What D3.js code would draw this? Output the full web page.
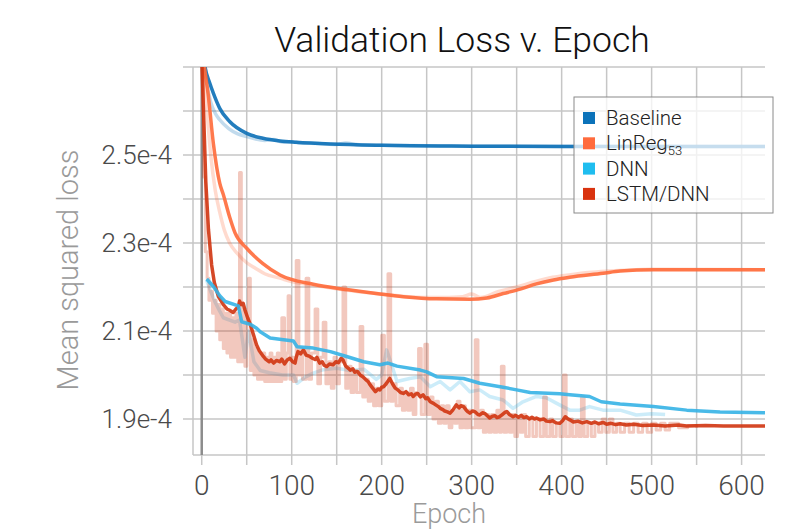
<!DOCTYPE html>
<html>
<head>
<meta charset="utf-8">
<script src="https://cdn.jsdelivr.net/npm/d3@7"></script>
<style>
  body { margin: 0; background: #fff; }
  svg text { font-family: Roboto, 'Liberation Sans', sans-serif; font-weight: 300; }
</style>
</head>
<body>
<div id="chart"></div>
<script>
// loss values are in units of 1e-4
const seriesNames = ['Baseline', 'LinReg', 'DNN', 'LSTM/DNN']
const colors = ['#0b6fb6', '#ff6a3a', '#35b3e6', '#d0340f']
const legendColors = ['#0b72b9', '#ff6b3d', '#1fbdef', '#d9330f']

const xTicks = [0, 100, 200, 300, 400, 500, 600]
const xGrid = [0, 50, 100, 150, 200, 250, 300, 350, 400, 450, 500, 550, 600]
const yTicks = [2.5, 2.3, 2.1, 1.9]
const yTickLabels = ['2.5e-4', '2.3e-4', '2.1e-4', '1.9e-4']
const yGrid = [1.9, 2.0, 2.1, 2.2, 2.3, 2.4, 2.5, 2.6, 2.7]

// smoothed curves
const baselineEpoch = [1, 3.7, 9, 13, 20, 31, 50, 68, 87, 105, 143, 200, 300, 400, 500, 626]
const baselineLoss = [2.74, 2.70, 2.663, 2.640, 2.606, 2.576, 2.549, 2.538, 2.532, 2.529, 2.525, 2.522, 2.520, 2.519, 2.519, 2.519]

const linregEpoch = [1, 3, 7, 13, 20, 24, 31, 37, 50, 68, 87, 124, 161, 198, 224, 261, 298, 317, 335, 354, 372, 391, 409, 446, 465, 502, 626]
const linregLoss = [2.74, 2.70, 2.641, 2.525, 2.436, 2.41, 2.359, 2.323, 2.288, 2.253, 2.227, 2.206, 2.194, 2.184, 2.178, 2.173, 2.172, 2.175, 2.185, 2.195, 2.207, 2.216, 2.222, 2.231, 2.236, 2.239, 2.239]

const dnnEpoch = [5.5, 13, 20, 26, 40.7, 44.4, 54, 61, 65, 76, 91, 102, 106, 124, 143, 161, 180, 198, 207, 217, 243, 250, 261, 291, 309, 335, 350, 365, 398, 409, 431, 444, 465, 502, 539, 576, 626]
const dnnLoss = [2.218, 2.201, 2.180, 2.167, 2.157, 2.121, 2.115, 2.106, 2.098, 2.084, 2.080, 2.077, 2.064, 2.061, 2.053, 2.042, 2.030, 2.023, 2.027, 2.020, 2.011, 2.007, 1.996, 1.992, 1.981, 1.972, 1.966, 1.960, 1.957, 1.955, 1.951, 1.939, 1.934, 1.928, 1.920, 1.916, 1.914]

const lstmEpoch = [0, 2, 4.5, 7.5, 11, 14, 18.5, 21, 24, 26, 28, 31, 35, 38, 40.7, 42, 44, 46, 48, 51, 54, 57, 61, 64, 68.5, 71, 75, 77, 80, 83, 87, 89, 92, 95, 98, 101, 103.7, 105, 107, 110, 113, 116, 120, 123, 126, 128, 131, 134, 136, 139, 142, 146, 149, 152, 155, 157, 160, 163, 165, 168, 170, 173, 176, 179, 182, 185, 187, 190, 193, 196, 198, 200, 202, 205, 209, 212, 215, 218, 221, 224, 227, 230, 233, 235, 238, 240, 243, 246, 249, 251, 254, 257, 260, 263, 265, 268, 270, 273, 276, 279, 283, 286, 288, 291, 294, 296, 298, 301, 304, 307, 309, 312, 315, 318, 320, 323, 326, 328, 331, 334, 337, 339, 342, 346, 349, 352, 355, 358, 361, 364, 367, 370, 372, 376, 380, 383, 387, 390, 394, 398, 401, 404, 407, 409, 413, 418, 423, 428, 433, 437, 441, 446, 450, 455, 460, 465, 472, 480, 490, 502, 515, 530, 539, 560, 580, 626]
const lstmLoss = [2.72, 2.60, 2.44, 2.33, 2.25, 2.21, 2.178, 2.17, 2.16, 2.155, 2.15, 2.147, 2.142, 2.150, 2.155, 2.168, 2.160, 2.163, 2.148, 2.130, 2.115, 2.095, 2.068, 2.055, 2.042, 2.036, 2.030, 2.034, 2.027, 2.033, 2.030, 2.036, 2.025, 2.034, 2.038, 2.030, 2.027, 2.040, 2.053, 2.048, 2.057, 2.045, 2.042, 2.038, 2.035, 2.040, 2.027, 2.030, 2.022, 2.019, 2.025, 2.023, 2.030, 2.028, 2.038, 2.034, 2.020, 2.015, 2.011, 2.014, 2.006, 2.008, 2.000, 1.996, 1.990, 1.985, 1.978, 1.970, 1.962, 1.968, 1.966, 1.972, 1.973, 1.980, 1.992, 1.980, 1.970, 1.966, 1.960, 1.958, 1.962, 1.955, 1.957, 1.951, 1.957, 1.958, 1.950, 1.955, 1.946, 1.948, 1.939, 1.936, 1.932, 1.928, 1.924, 1.921, 1.918, 1.916, 1.913, 1.920, 1.932, 1.925, 1.930, 1.928, 1.920, 1.916, 1.913, 1.918, 1.916, 1.910, 1.909, 1.914, 1.912, 1.906, 1.902, 1.906, 1.907, 1.903, 1.905, 1.910, 1.915, 1.917, 1.910, 1.905, 1.908, 1.904, 1.908, 1.903, 1.905, 1.900, 1.904, 1.900, 1.902, 1.898, 1.900, 1.895, 1.894, 1.896, 1.891, 1.890, 1.896, 1.905, 1.900, 1.898, 1.893, 1.895, 1.891, 1.894, 1.890, 1.893, 1.889, 1.892, 1.888, 1.890, 1.887, 1.889, 1.886, 1.888, 1.885, 1.886, 1.884, 1.886, 1.884, 1.885, 1.884, 1.884]

// raw (unsmoothed) curves, drawn faint
const baselineRawEpoch = [1, 5, 10, 15, 20, 30, 40, 50, 60, 70, 80, 90, 100, 110, 130, 150, 160, 175, 200, 250, 300, 626]
const baselineRawLoss = [2.74, 2.67, 2.62, 2.595, 2.58, 2.56, 2.548, 2.542, 2.536, 2.533, 2.535, 2.529, 2.530, 2.527, 2.526, 2.524, 2.527, 2.523, 2.522, 2.521, 2.520, 2.519]

const linregRawEpoch = [1, 5, 10, 15, 20, 25, 31, 40, 50, 60, 70, 87, 100, 124, 150, 180, 200, 230, 260, 290, 300, 310, 330, 350, 370, 390, 410, 430, 450, 470, 500, 626]
const linregRawLoss = [2.72, 2.62, 2.50, 2.42, 2.37, 2.33, 2.30, 2.275, 2.255, 2.242, 2.230, 2.220, 2.212, 2.204, 2.196, 2.188, 2.184, 2.178, 2.176, 2.178, 2.184, 2.176, 2.190, 2.200, 2.212, 2.222, 2.228, 2.233, 2.236, 2.238, 2.240, 2.239]

const dnnRawEpoch = [5.5, 10, 15, 20, 24, 37, 42, 48, 52, 58, 65, 75, 90, 102, 106, 115, 124, 135, 150, 165, 180, 194, 200, 205.5, 210, 217, 231, 243, 254, 265, 276, 287, 298, 309, 320, 335, 346, 357, 372, 383, 394, 409, 420, 431, 446, 465, 483, 500, 515]
const dnnRawLoss = [2.215, 2.19, 2.165, 2.145, 2.13, 2.12, 2.125, 2.04, 2.10, 2.03, 2.01, 2.005, 2.0, 2.0, 1.981, 1.995, 2.004, 2.012, 2.015, 2.010, 2.013, 1.990, 2.000, 2.057, 2.03, 1.985, 1.992, 1.996, 1.973, 1.985, 1.966, 1.985, 1.962, 1.966, 1.951, 1.943, 1.924, 1.939, 1.951, 1.948, 1.936, 1.920, 1.920, 1.928, 1.920, 1.920, 1.909, 1.912, 1.910]

const lstmRawEpoch = [0, 2, 4, 6, 8, 10, 12, 14, 16, 18, 20, 22, 24, 26, 28, 30, 32, 34, 36, 38, 40, 42, 44, 46, 48, 50, 52, 54, 56, 58, 60, 62, 64, 66, 68, 70, 72, 74, 76, 78, 80, 82, 84, 86, 89, 92, 94, 96, 98, 100, 102, 105, 108, 110, 112, 116, 119, 122, 126, 129, 132, 135, 138, 141, 144, 147, 150, 153, 157, 160, 163, 166, 169, 172, 176, 179, 182, 185, 188, 191, 194, 197, 200, 203, 207, 210, 213, 216, 220, 223, 226, 229, 232, 235, 238, 241, 244, 248, 251, 254, 257, 260, 263, 266, 269, 272, 275, 278, 281, 284, 287, 290, 293, 296, 299, 304, 307, 310, 313, 316, 319, 322, 325, 328, 331, 333, 336, 339, 342, 345, 348, 351, 354, 357, 360, 364, 368, 372, 376, 380, 383, 387, 390, 394, 398, 402, 405, 409, 412, 416, 419, 422, 425, 429, 433, 437, 441, 445, 449, 453, 457, 461, 465, 470, 475, 480, 485, 490, 495, 500, 505, 510, 515, 520, 530, 540, 550]
const lstmRawLoss = [2.72, 2.45, 2.28, 2.22, 2.17, 2.19, 2.14, 2.17, 2.10, 2.16, 2.08, 2.15, 2.06, 2.14, 2.05, 2.14, 2.04, 2.13, 2.04, 2.14, 2.03, 2.46, 2.03, 2.15, 2.02, 2.12, 2.22, 2.01, 2.08, 2.00, 2.06, 1.99, 2.05, 1.99, 2.05, 1.985, 2.04, 1.985, 2.05, 1.985, 2.04, 1.985, 2.05, 1.985, 2.13, 1.99, 2.05, 2.18, 1.99, 2.04, 1.985, 2.26, 2.00, 2.06, 1.99, 2.22, 1.99, 2.05, 2.15, 1.98, 2.04, 2.12, 1.98, 2.03, 1.97, 2.04, 1.98, 2.03, 2.20, 1.97, 2.02, 1.96, 2.01, 1.96, 2.11, 1.95, 1.99, 1.94, 1.98, 1.93, 1.97, 1.93, 2.09, 1.94, 2.23, 1.94, 1.98, 1.93, 1.97, 1.92, 1.96, 1.92, 1.97, 1.91, 1.96, 2.06, 1.91, 2.07, 1.91, 1.95, 1.90, 1.94, 1.89, 1.93, 1.89, 1.93, 1.88, 1.92, 1.89, 1.94, 1.88, 1.93, 1.88, 1.92, 1.88, 2.08, 1.88, 1.92, 1.87, 1.91, 1.87, 1.91, 1.87, 1.92, 1.87, 2.02, 1.87, 1.91, 1.87, 1.91, 1.86, 1.90, 1.87, 1.91, 1.86, 1.90, 1.86, 1.90, 1.86, 1.95, 1.86, 1.90, 1.86, 1.89, 1.86, 2.00, 1.86, 1.90, 1.86, 1.89, 1.86, 1.95, 1.86, 1.89, 1.86, 1.89, 1.87, 1.90, 1.87, 1.90, 1.87, 1.89, 1.87, 1.89, 1.87, 1.89, 1.87, 1.89, 1.87, 1.89, 1.875, 1.89, 1.875, 1.89, 1.88, 1.885, 1.88]

const width = 807
const height = 531
const plot = { left: 193, right: 765, top: 67, bottom: 455 }

const svg = d3.select('#chart')
  .append('svg')
  .attr('width', width)
  .attr('height', height)

const x = d3.scaleLinear().domain([-9.7, 626]).range([plot.left, plot.right])
const y = d3.scaleLinear().domain([1.818, 2.7]).range([plot.bottom, plot.top])

svg.append('clipPath')
  .attr('id', 'plot-clip')
  .append('rect')
  .attr('x', plot.left)
  .attr('y', plot.top)
  .attr('width', plot.right - plot.left)
  .attr('height', plot.bottom - plot.top)

// grid
const grid = svg.append('g').attr('stroke', '#c6c6c6').attr('stroke-width', 1.5)
grid.selectAll('.vgrid')
  .data(xGrid)
  .enter()
  .append('line')
  .attr('x1', d => x(d)).attr('x2', d => x(d))
  .attr('y1', plot.top).attr('y2', plot.bottom + 10)
grid.selectAll('.hgrid')
  .data(yGrid)
  .enter()
  .append('line')
  .attr('x1', plot.left - 10).attr('x2', plot.right)
  .attr('y1', d => y(d)).attr('y2', d => y(d))
grid.append('line')
  .attr('x1', plot.left).attr('x2', plot.left)
  .attr('y1', plot.top).attr('y2', plot.bottom)
grid.append('line')
  .attr('x1', plot.left).attr('x2', plot.right)
  .attr('y1', plot.bottom).attr('y2', plot.bottom)

// zero epoch axis
svg.append('line')
  .attr('x1', x(0)).attr('x2', x(0))
  .attr('y1', plot.top).attr('y2', plot.bottom)
  .attr('stroke', '#8c8c8c')
  .attr('stroke-width', 2.5)

const line = d3.line()
  .x(d => x(d[0]))
  .y(d => y(d[1]))

const zip = (a, b) => a.map((v, i) => [v, b[i]])

const rawSeries = [
  zip(baselineRawEpoch, baselineRawLoss),
  zip(linregRawEpoch, linregRawLoss),
  zip(dnnRawEpoch, dnnRawLoss),
  zip(lstmRawEpoch, lstmRawLoss)
]
const rawCurves = [d3.curveMonotoneX, d3.curveMonotoneX, d3.curveLinear, d3.curveStepAfter]
const smoothSeries = [
  zip(baselineEpoch, baselineLoss),
  zip(linregEpoch, linregLoss),
  zip(lstmEpoch, lstmLoss),
  zip(dnnEpoch, dnnLoss)
]
const smoothColors = [colors[0], colors[1], colors[3], colors[2]]
const smoothCurves = [d3.curveMonotoneX, d3.curveMonotoneX, d3.curveLinear, d3.curveLinear]

const lines = svg.append('g').attr('clip-path', 'url(#plot-clip)')

lines.selectAll('.raw')
  .data(rawSeries)
  .enter()
  .append('path')
  .attr('d', (d, i) => line.curve(rawCurves[i])(d))
  .attr('fill', 'none')
  .attr('stroke', (d, i) => colors[i])
  .attr('stroke-opacity', (d, i) => i === 3 ? 0.27 : 0.25)
  .attr('stroke-width', (d, i) => i === 3 ? 3 : 3.5)
  .attr('stroke-linejoin', 'round')

lines.selectAll('.smooth')
  .data(smoothSeries)
  .enter()
  .append('path')
  .attr('d', (d, i) => line.curve(smoothCurves[i])(d))
  .attr('fill', 'none')
  .attr('stroke', (d, i) => smoothColors[i])
  .attr('stroke-opacity', 0.9)
  .attr('stroke-width', 3.5)
  .attr('stroke-linejoin', 'round')

// tick labels
svg.append('g')
  .selectAll('text')
  .data(yTicks)
  .enter()
  .append('text')
  .attr('x', 172)
  .attr('y', d => y(d) + 9)
  .attr('text-anchor', 'end')
  .attr('fill', '#4a4a4a')
  .style('font-size', '26px')
  .text((d, i) => yTickLabels[i])

svg.append('g')
  .selectAll('text')
  .data(xTicks)
  .enter()
  .append('text')
  .attr('x', d => x(d))
  .attr('y', 495)
  .attr('text-anchor', 'middle')
  .attr('fill', '#4a4a4a')
  .style('font-size', '28px')
  .text(d => d)

// titles
svg.append('text')
  .attr('x', 462)
  .attr('y', 52)
  .attr('text-anchor', 'middle')
  .attr('fill', '#111')
  .style('font-size', '35.5px')
  .text('Validation Loss v. Epoch')

svg.append('text')
  .attr('x', 449)
  .attr('y', 523)
  .attr('text-anchor', 'middle')
  .attr('fill', '#9a9a9a')
  .style('font-size', '27px')
  .text('Epoch')

svg.append('text')
  .attr('transform', 'translate(78, 270) rotate(-90)')
  .attr('text-anchor', 'middle')
  .attr('fill', '#9a9a9a')
  .style('font-size', '29px')
  .text('Mean squared loss')

// legend
const legend = svg.append('g').attr('transform', 'translate(574, 97)')
legend.append('rect')
  .attr('width', 199)
  .attr('height', 116)
  .attr('fill', '#fff')
  .attr('fill-opacity', 0.75)
  .attr('stroke', '#8a8a8a')
  .attr('stroke-width', 1)

const item = legend.selectAll('.item')
  .data(seriesNames)
  .enter()
  .append('g')
  .attr('transform', (d, i) => `translate(9, ${21 + i * 25.3})`)

item.append('rect')
  .attr('x', 0)
  .attr('y', -6)
  .attr('width', 12)
  .attr('height', 12)
  .attr('fill', (d, i) => legendColors[i])

const itemText = item.append('text')
  .attr('x', 23)
  .attr('y', 7)
  .attr('fill', '#222')
  .style('font-size', '20.5px')
  .text(d => d)

// subscript for the linear regression entry
itemText.filter(d => d === 'LinReg')
  .append('tspan')
  .attr('dy', 5)
  .style('font-size', '13px')
  .text('53')
</script>
</body>
</html>
